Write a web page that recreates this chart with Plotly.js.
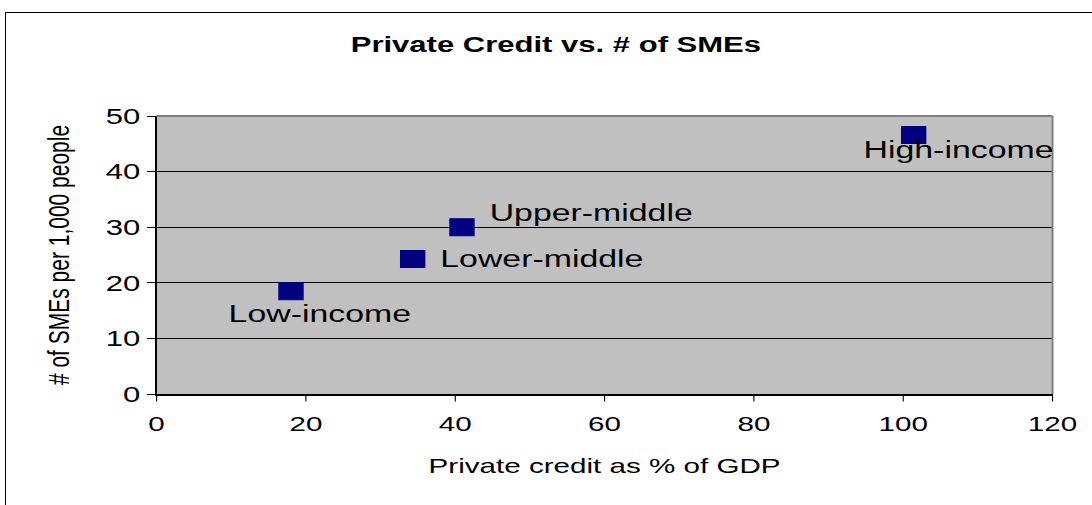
<!DOCTYPE html>
<html>
<head>
<meta charset="utf-8">
<script src="https://cdn.plot.ly/plotly-3.0.1.min.js"></script>
<style>
  html, body { margin: 0; padding: 0; background: #fff; overflow: hidden; width: 1092px; height: 505px; }
  #frame { position: absolute; left: 5px; top: 12px; width: 1087px; height: 493px;
           border-left: 1px solid #000; border-top: 1px solid #000; pointer-events: none; z-index: 5; box-sizing: border-box; }
  #chart { position: absolute; left: 0; top: 0; width: 774px; height: 505px;
           transform: scaleX(1.4109); transform-origin: 0 0; }
</style>
</head>
<body>
<div id="chart"></div>
<div id="frame"></div>
<script>
// Data
const groups = ["Low-income", "Lower-middle", "Upper-middle", "High-income"];
const privateCredit = [18, 34.3, 40.9, 101.4];
const smesPer1000 = [18.5, 24.3, 30.0, 46.6];
const xTicks = [0, 20, 40, 60, 80, 100, 120];
const yTicks = [0, 10, 20, 30, 40, 50];

// label placement styles (offsets in px relative to marker, unstretched)
const labelStyle = [
  {xanchor: "center", xshift: 20, yshift: -22},
  {xanchor: "left", xshift: 17.5, yshift: 0},
  {xanchor: "left", xshift: 17.5, yshift: 15},
  {xanchor: "center", xshift: 32, yshift: -15}
];

const font = "Liberation Sans, Arial, sans-serif";

const trace = {
  type: "scatter",
  mode: "markers",
  x: privateCredit,
  y: smesPer1000,
  marker: {
    symbol: "square",
    size: 17,
    color: "#000080",
    line: {color: "#000080", width: 1}
  },
  hoverinfo: "skip"
};

const annotations = groups.map((g, i) => ({
  x: privateCredit[i],
  y: smesPer1000[i],
  xref: "x", yref: "y",
  text: g,
  showarrow: false,
  xanchor: labelStyle[i].xanchor,
  yanchor: "middle",
  xshift: labelStyle[i].xshift,
  yshift: labelStyle[i].yshift,
  font: {family: font, size: 24, color: "#000"}
}));

const layout = {
  width: 774,
  height: 505,
  margin: {l: 111.3, r: 28.4, t: 116, b: 111, pad: 0},
  paper_bgcolor: "#ffffff",
  plot_bgcolor: "#c0c0c0",
  showlegend: false,
  title: {
    text: "<b>Private Credit vs. # of SMEs</b>",
    font: {family: font, size: 22, color: "#000"},
    x: 394 / 774, xref: "container", xanchor: "center",
    y: 1 - 44 / 505, yref: "container", yanchor: "middle"
  },
  xaxis: {
    range: [0, 120],
    tickvals: xTicks,
    ticks: "outside", ticklen: 6, tickcolor: "#000", tickwidth: 0.8,
    ticklabelstandoff: 4,
    showline: true, linecolor: "#000", linewidth: 1.5,
    showgrid: false, zeroline: false,
    tickfont: {family: font, size: 21, color: "#000"},
    title: {text: "Private credit as % of GDP", font: {family: font, size: 21, color: "#000"}, standoff: 24}
  },
  yaxis: {
    range: [0, 50],
    tickvals: yTicks,
    ticks: "outside", ticklen: 6, tickcolor: "#000", tickwidth: 1,
    showline: true, linecolor: "#000", linewidth: 1.1,
    showgrid: true, gridcolor: "#000", gridwidth: 1,
    zeroline: false,
    tickfont: {family: font, size: 22, color: "#000"},
    title: {text: "# of SMEs per 1,000 people", font: {family: font, size: 21, color: "#000"}, standoff: 19}
  },
  shapes: [
    {type: "line", xref: "paper", yref: "paper", x0: 0, x1: 1, y0: 1, y1: 1, line: {color: "#808080", width: 2}, layer: "above"},
    {type: "line", xref: "paper", yref: "paper", x0: 1, x1: 1, y0: 0, y1: 1, line: {color: "#808080", width: 1.4}, layer: "above"}
  ],
  annotations: annotations
};

Plotly.newPlot("chart", [trace], layout, {displayModeBar: false, staticPlot: true});
</script>
</body>
</html>
